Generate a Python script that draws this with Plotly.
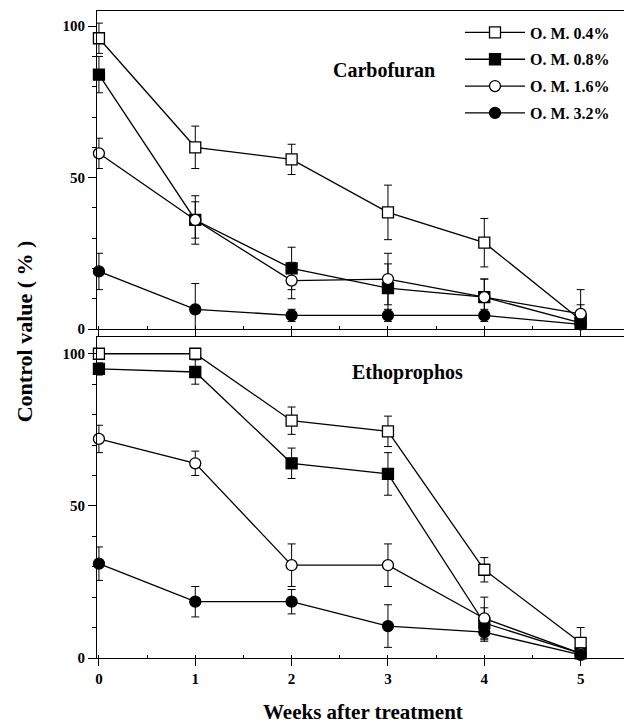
import plotly.graph_objects as go

weeks = [0, 1, 2, 3, 4, 5]
series_names = ["O. M. 0.4%", "O. M. 0.8%", "O. M. 1.6%", "O. M. 3.2%"]

# Carbofuran (top panel)
carbo_04 = [96, 60, 56, 38.5, 28.5, 3]
carbo_04_err = [5, 7, 5, 9, 8, 10]
carbo_08 = [84, 36, 20, 13.5, 10.5, 2]
carbo_08_err = [6, 8, 7, 8, 6, 2]
carbo_16 = [58, 36, 16, 16.5, 10.5, 5]
carbo_16_err = [5, 6, 6, 8.5, 6, 3]
carbo_32 = [19, 6.5, 4.5, 4.5, 4.5, 1.5]
carbo_32_err = [6, 8.5, 2, 2, 2, 1]

# Ethoprophos (bottom panel)
etho_04 = [100, 100, 78, 74.5, 29, 5]
etho_04_err = [0, 0, 4.5, 5, 4, 5]
etho_08 = [95, 94, 64, 60.5, 11.5, 1.5]
etho_08_err = [2, 4, 5, 7, 5, 1]
etho_16 = [72, 64, 30.5, 30.5, 13, 1.5]
etho_16_err = [4.5, 4, 7, 7, 7, 1]
etho_32 = [31, 18.5, 18.5, 10.5, 8.5, 1]
etho_32_err = [5.5, 5, 4, 7, 3, 1]

y_tickvals = [0, 50, 100]
x_tickvals = [0, 1, 2, 3, 4, 5]

FONT = "Liberation Serif"
marker_styles = [
    dict(symbol="square", color="white"),
    dict(symbol="square", color="black"),
    dict(symbol="circle", color="white"),
    dict(symbol="circle", color="black"),
]

fig = go.Figure()

panels = [
    ("x", "y", [carbo_04, carbo_08, carbo_16, carbo_32],
     [carbo_04_err, carbo_08_err, carbo_16_err, carbo_32_err], True),
    ("x2", "y2", [etho_04, etho_08, etho_16, etho_32],
     [etho_04_err, etho_08_err, etho_16_err, etho_32_err], False),
]

for xa, ya, vals, errs, show in panels:
    for i, (v, e) in enumerate(zip(vals, errs)):
        ms = marker_styles[i]
        fig.add_trace(go.Scatter(
            x=weeks, y=v, xaxis=xa, yaxis=ya,
            mode="lines+markers",
            name=series_names[i],
            legendgroup=series_names[i],
            showlegend=show,
            line=dict(color="black", width=1.3),
            marker=dict(symbol=ms["symbol"], color=ms["color"], size=11,
                        line=dict(color="black", width=1.3)),
            error_y=dict(type="data", array=e, visible=True, color="black",
                         thickness=1, width=4),
            cliponaxis=False,
        ))

tickfont = dict(family=FONT, size=15, color="black", weight="bold")

common_y = dict(
    showline=True, linecolor="black", linewidth=1.2,
    ticks="outside", ticklen=8, tickwidth=1, tickcolor="black",
    tickvals=y_tickvals, tickfont=tickfont, showgrid=False, zeroline=False,
    minor=dict(dtick=10, tick0=0, ticks="outside", ticklen=4, tickcolor="black", tickwidth=1),
)
common_x = dict(
    showline=True, linecolor="black", linewidth=1.2, mirror=True,
    ticks="outside", ticklen=7, tickwidth=1, tickcolor="black",
    tickvals=x_tickvals, showgrid=False, zeroline=False,
    range=[-0.02, 5.45],
    minor=dict(dtick=0.5, tick0=0, ticks="inside", ticklen=3, tickcolor="black", tickwidth=1),
)

fig.update_layout(
    width=624, height=724,
    margin=dict(l=97, r=0, t=11, b=66),
    paper_bgcolor="white", plot_bgcolor="white",
    font=dict(family=FONT, color="black"),
    xaxis=dict(**common_x, anchor="y", showticklabels=False),
    yaxis=dict(**common_y, domain=[0.5085, 1.0], range=[0, 105], anchor="x"),
    xaxis2=dict(**common_x, anchor="y2", tickfont=tickfont),
    yaxis2=dict(**common_y, domain=[0.0, 0.4961], range=[0, 105.5], anchor="x2"),
    legend=dict(
        x=0.6888, y=0.993, xanchor="left", yanchor="top",
        font=dict(family=FONT, size=16, color="black", weight="bold"),
        bgcolor="rgba(0,0,0,0)", tracegroupgap=3, itemwidth=60,
    ),
    annotations=[
        dict(text="Carbofuran", x=2.96, y=85.5, xref="x", yref="y",
             showarrow=False, font=dict(family=FONT, size=20, color="black", weight="bold")),
        dict(text="Ethoprophos", x=3.2, y=93.7, xref="x2", yref="y2",
             showarrow=False, font=dict(family=FONT, size=20, color="black", weight="bold")),
        dict(text="Control value ( % )", x=-0.1385, y=0.505, xref="paper", yref="paper",
             textangle=-90, showarrow=False, xanchor="center", yanchor="middle",
             font=dict(family=FONT, size=22, color="black", weight="bold")),
        dict(text="Weeks after treatment", x=0.504, y=-0.0835, xref="paper", yref="paper",
             showarrow=False, xanchor="center", yanchor="middle",
             font=dict(family=FONT, size=21, color="black", weight="bold")),
    ],
)

fig.write_html("out.html")
